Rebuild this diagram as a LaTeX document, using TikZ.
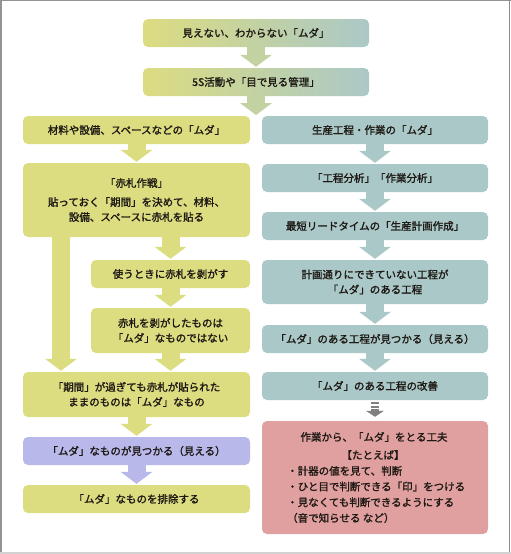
\documentclass[tikz,border=0pt]{standalone}
\usepackage{fontspec}
\setmainfont{Noto Sans CJK JP}[FakeBold=1.5]
\usetikzlibrary{arrows.meta,calc}
\definecolor{ycol}{RGB}{220,220,128}
\definecolor{tcol}{RGB}{170,200,199}
\definecolor{pcol}{RGB}{184,184,234}
\definecolor{rcol}{RGB}{225,160,160}
\definecolor{gcol}{RGB}{128,128,128}
\definecolor{txt}{RGB}{30,25,20}
\begin{document}
\begin{tikzpicture}[x=1pt,y=-1pt,
  box/.style={rounded corners=5pt, inner sep=0pt, align=center, text=txt,
    font=\fontsize{10.5pt}{15pt}\selectfont, minimum height=28pt},
  lbox/.style={box, fill=ycol, minimum width=227pt},
  sbox/.style={box, fill=ycol, minimum width=159pt},
  rbox/.style={box, fill=tcol, minimum width=226pt},
  gbox/.style={box, left color=ycol, right color=tcol, minimum width=226pt},
  blk/.style={line width=18pt, shorten >=1pt, -{Triangle[width=32pt,length=12pt,line width=0pt]}},
  txtnode/.style={inner sep=0pt, text=txt, font=\fontsize{10.5pt}{15.7pt}\selectfont}]
\useasboundingbox (0,0) rectangle (511,554);
\fill[white] (0,0) rectangle (511,554);
\fill[gray!85] (0,0) rectangle (2,554);
\fill[gray!85] (0,0) rectangle (511,1);
\fill[gray!35] (0,551.5) rectangle (511,554);
\fill[gray!90] (508.5,0) rectangle (509.8,552);
% top
\node[gbox] (top1) at (256,33) {見えない、わからない「ムダ」};
\node[gbox] (top2) at (256,82) {5S活動や「目で見る管理」};
\coordinate (split) at (256,116);
% left column
\node[lbox, minimum height=28pt] (l3) at (136.5,130) {材料や設備、スペースなどの「ムダ」};
\node[lbox, minimum height=74pt] (l4) at (136.5,200) {「赤札作戦」\\[4pt]貼っておく「期間」を決めて、材料、\\設備、スペースに赤札を貼る};
\node[sbox] (l5) at (170.5,274) {使うときに赤札を剥がす};
\node[sbox, minimum height=45pt] (l6) at (170.5,330.5) {赤札を剥がしたものは\\「ムダ」なものではない};
\node[lbox, minimum height=45pt] (l7) at (136.5,394.5) {「期間」が過ぎても赤札が貼られた\\ままのものは「ムダ」なもの};
\node[box, fill=pcol, minimum width=227pt] (l8) at (136.5,451) {「ムダ」なものが見つかる（見える）};
\node[lbox] (l9) at (136.5,499) {「ムダ」なものを排除する};
% right column
\node[rbox] (r3) at (375,130) {生産工程・作業の「ムダ」};
\node[rbox] (r4) at (375,178) {「工程分析」「作業分析」};
\node[rbox] (r5) at (375,226) {最短リードタイムの「生産計画作成」};
\node[rbox, minimum height=44pt] (r6) at (375,282) {計画通りにできていない工程が\\「ムダ」のある工程};
\node[rbox] (r7) at (375,339) {「ムダ」のある工程が見つかる（見える）};
\node[rbox] (r8) at (375,386) {「ムダ」のある工程の改善};
\node[box, fill=rcol, minimum width=226pt, minimum height=113pt] (r9) at (375,477.5) {};
\node[txtnode] (r9a) at (374,437) {作業から、「ムダ」をとる工夫};
\node[txtnode] (r9b) at (373,455) {【たとえば】};
\node[txtnode, anchor=west, align=left] (r9c) at (287,494.5) {・計器の値を見て、判断\\・ひと目で判断できる「印」をつける\\・見なくても判断できるようにする\\（音で知らせる など）};
% arrows
\draw[blk, ycol!50!tcol] (top1.south) -- (top2.north);
\draw[blk, ycol!50!tcol] (top2.south) -- (split);
\draw[blk, ycol] (l3.south) -- (l4.north);
\draw[blk, ycol] (l4.south -| l5.north) -- (l5.north);
\draw[blk, ycol] (l5.south) -- (l6.north);
\draw[blk, ycol] (l6.south) -- (l7.north -| l6.south);
\draw[blk, ycol] (l4.south -| 61,0) -- (l7.north -| 61,0);
\draw[blk, ycol] (l7.south) -- (l8.north);
\draw[blk, pcol] (l8.south) -- (l9.north);
\draw[blk, tcol] (r3.south) -- (r4.north);
\draw[blk, tcol] (r4.south) -- (r5.north);
\draw[blk, tcol] (r5.south) -- (r6.north);
\draw[blk, tcol] (r6.south) -- (r7.north);
\draw[blk, tcol] (r7.south) -- (r8.north);
\draw[gcol, line width=8pt, dash pattern=on 2pt off 1.5pt, shorten <=2pt, shorten >=4pt,
  -{Triangle[width=18pt,length=6pt,line width=0pt]}] (r8.south) -- (r9.north);
\end{tikzpicture}
\end{document}
